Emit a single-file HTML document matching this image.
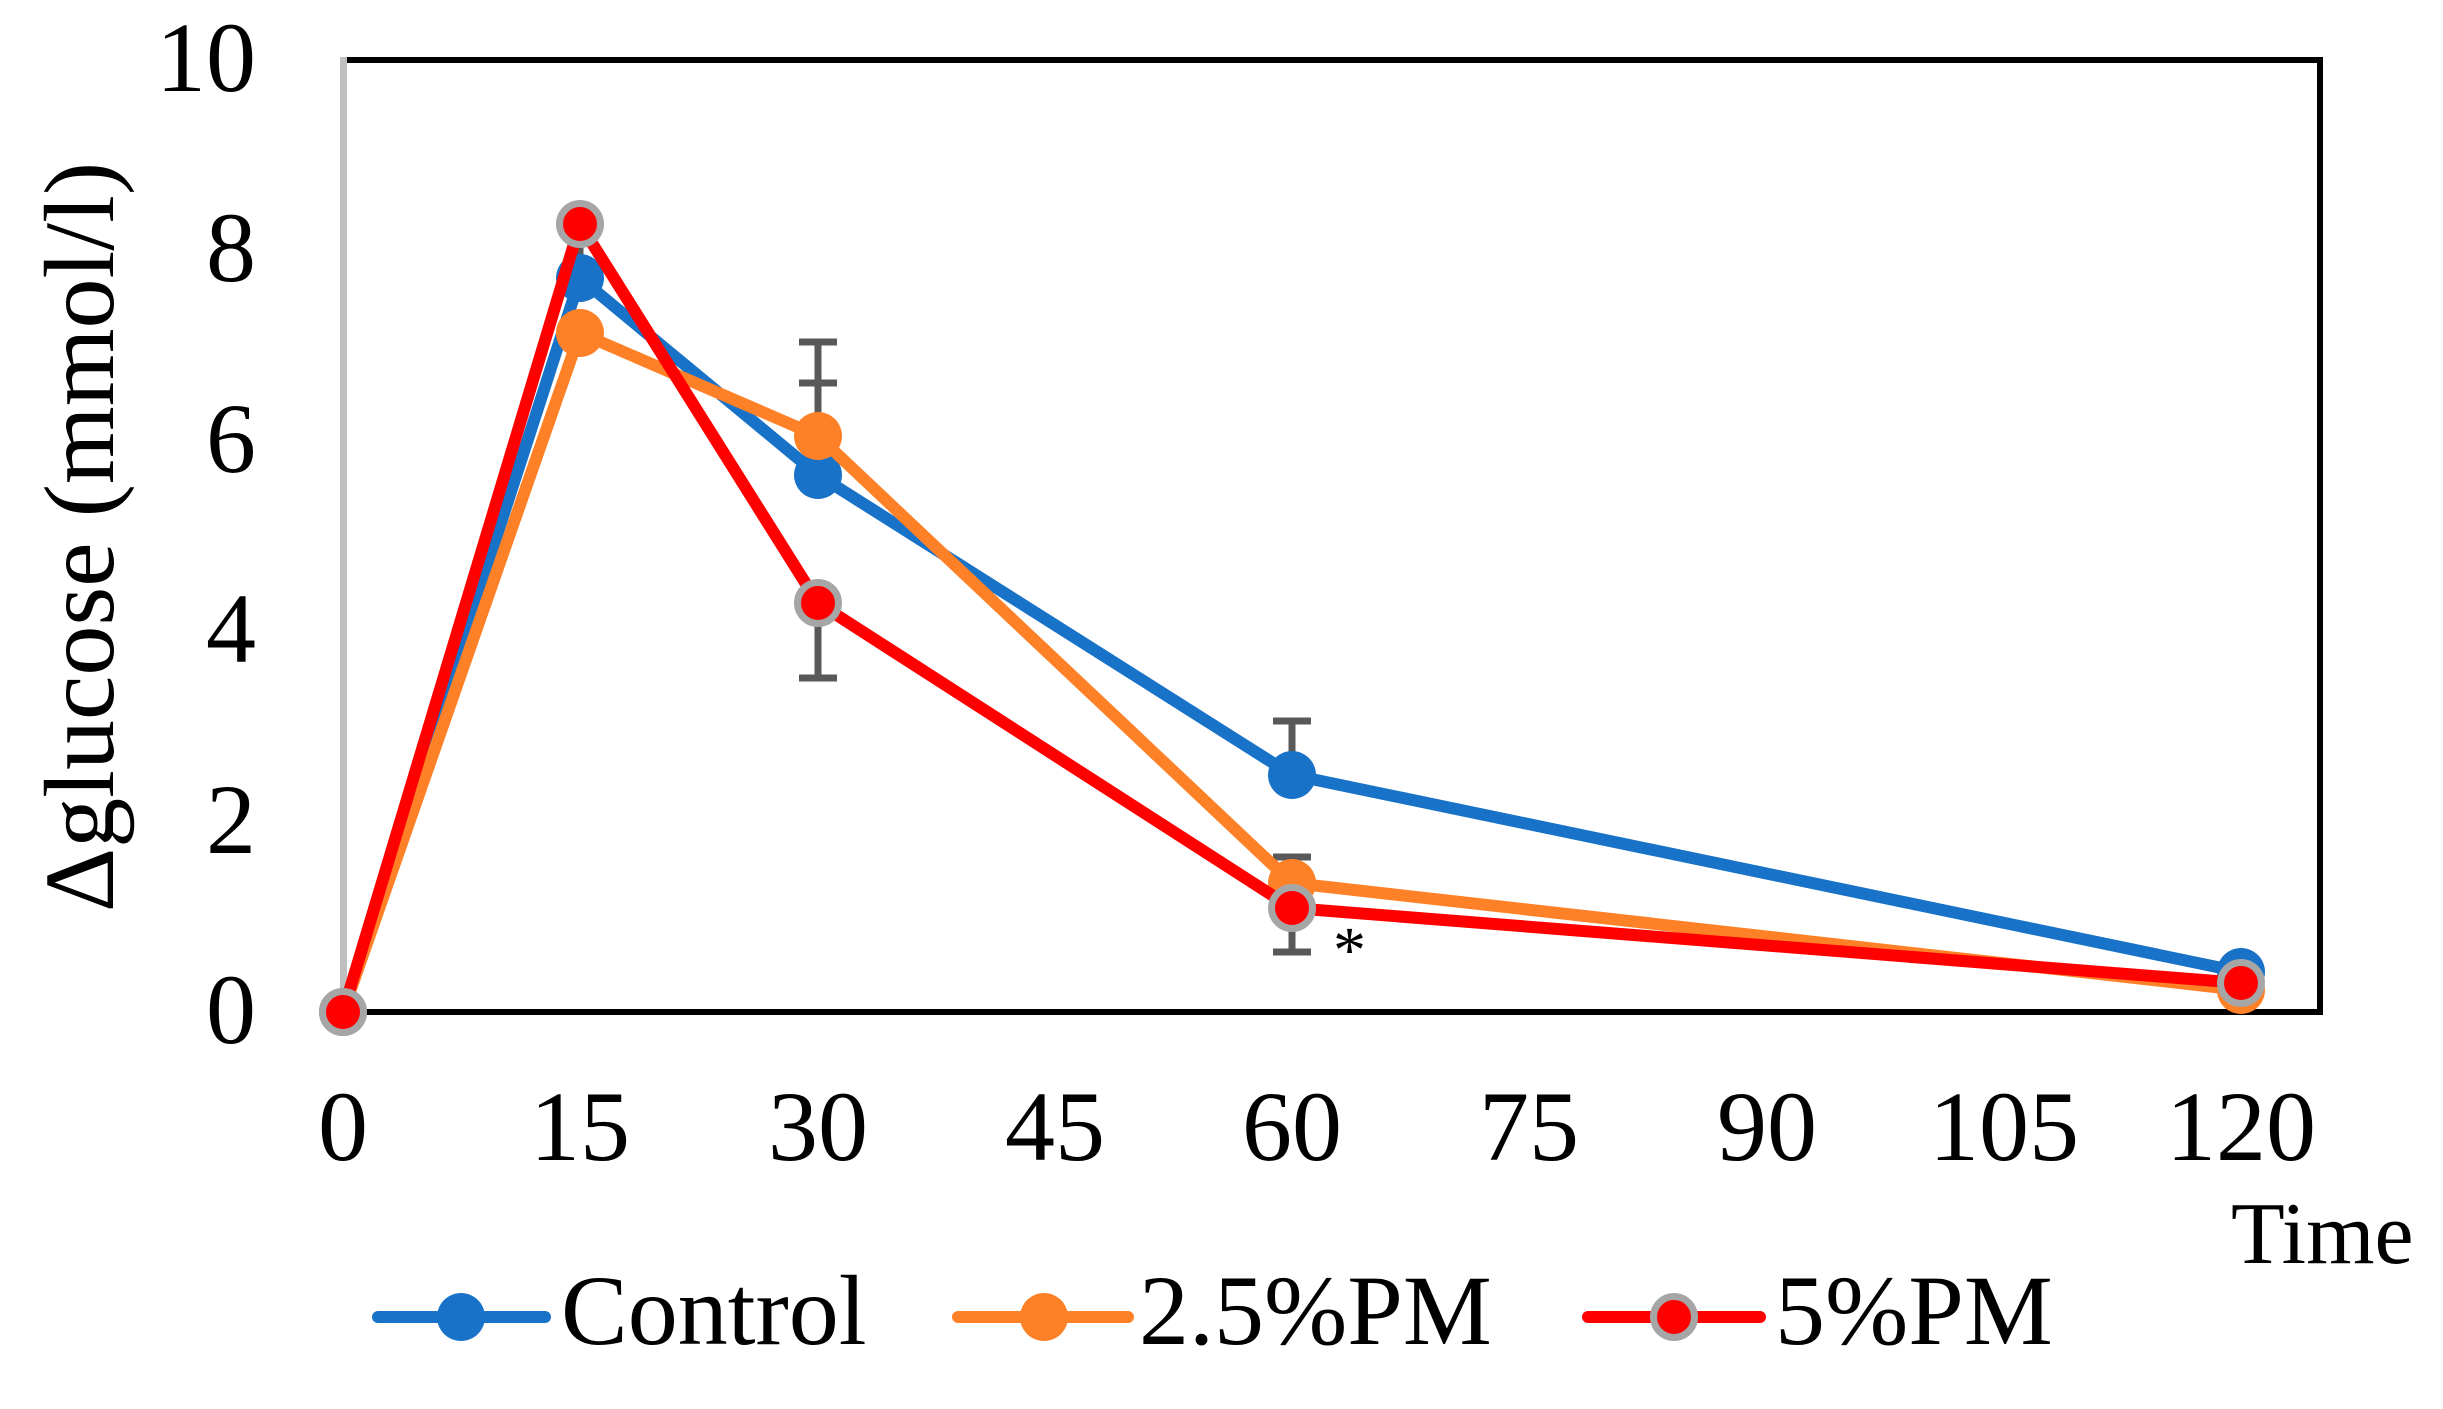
<!DOCTYPE html>
<html><head><meta charset="utf-8"><style>
html,body{margin:0;padding:0;background:#fff;}
svg text{font-family:"Liberation Serif",serif;fill:#000;}
</style></head><body>
<svg width="2443" height="1404" viewBox="0 0 2443 1404" xmlns="http://www.w3.org/2000/svg">
<rect width="2443" height="1404" fill="#fff"/>
<line x1="343.5" y1="60" x2="2320" y2="60" stroke="#000" stroke-width="6"/>
<line x1="2320" y1="57" x2="2320" y2="1015" stroke="#000" stroke-width="6"/>
<line x1="343.5" y1="1012" x2="2323" y2="1012" stroke="#000" stroke-width="6"/>
<line x1="343.5" y1="57" x2="343.5" y2="1012" stroke="#bfbfbf" stroke-width="7"/>
<g font-size="100" text-anchor="end">
<text x="256" y="1043">0</text>
<text x="256" y="853">2</text>
<text x="256" y="662">4</text>
<text x="256" y="472">6</text>
<text x="256" y="281">8</text>
<text x="256" y="91">10</text>
</g>
<g font-size="100" text-anchor="middle">
<text x="343" y="1160">0</text>
<text x="580" y="1160">15</text>
<text x="818" y="1160">30</text>
<text x="1055" y="1160">45</text>
<text x="1292" y="1160">60</text>
<text x="1529" y="1160">75</text>
<text x="1767" y="1160">90</text>
<text x="2004" y="1160">105</text>
<text x="2241" y="1160">120</text>
</g>
<text x="113" y="537" font-size="100" text-anchor="middle" transform="rotate(-90 113 537)">Δglucose (mmol/l)</text>
<text x="2231" y="1263" font-size="88">Time</text>
<text x="1333" y="972" font-size="66">*</text>
<g stroke="#595959" stroke-width="7" fill="none">
<path d="M818 342V475M799 342H837"/>
<path d="M818 383V436M799 383H837"/>
<path d="M818 678V603M799 678H837"/>
<path d="M1292 721V775M1273 721H1311"/>
<path d="M1292 857V883M1273 857H1311"/>
<path d="M1292 952V908M1273 952H1311"/>
<path d="M580 210V278M580 315V333"/>
</g>
<g>
<polyline points="343,1012 580,278 818,475 1292,775 2241,972" fill="none" stroke="#1872c8" stroke-width="12" stroke-linejoin="round"/>
<g fill="#1872c8"><circle cx="343" cy="1012" r="24"/><circle cx="580" cy="278" r="24"/><circle cx="818" cy="475" r="24"/><circle cx="1292" cy="775" r="24"/><circle cx="2241" cy="972" r="24"/></g>
</g>
<g>
<polyline points="343,1012 580,333 818,436 1292,883 2241,990" fill="none" stroke="#ff8127" stroke-width="12" stroke-linejoin="round"/>
<g fill="#ff8127"><circle cx="343" cy="1012" r="24"/><circle cx="580" cy="333" r="24"/><circle cx="818" cy="436" r="24"/><circle cx="1292" cy="883" r="24"/><circle cx="2241" cy="990" r="24"/></g>
</g>
<g>
<polyline points="343,1012 580,224 818,603 1292,908 2241,983" fill="none" stroke="#ff0000" stroke-width="12" stroke-linejoin="round"/>
<g fill="#ff0000" stroke="#a6a6a6" stroke-width="7"><circle cx="343" cy="1012" r="20.5"/><circle cx="580" cy="224" r="20.5"/><circle cx="818" cy="603" r="20.5"/><circle cx="1292" cy="908" r="20.5"/><circle cx="2241" cy="983" r="20.5"/></g>
</g>
<g font-size="100">
<line x1="378" y1="1317" x2="545" y2="1317" stroke="#1872c8" stroke-width="12" stroke-linecap="round"/>
<circle cx="461" cy="1317" r="24" fill="#1872c8"/>
<text x="561" y="1344">Control</text>
<line x1="958" y1="1317" x2="1128" y2="1317" stroke="#ff8127" stroke-width="12" stroke-linecap="round"/>
<circle cx="1044" cy="1317" r="24" fill="#ff8127"/>
<text x="1139" y="1344">2.5%PM</text>
<line x1="1588" y1="1317" x2="1760" y2="1317" stroke="#ff0000" stroke-width="12" stroke-linecap="round"/>
<circle cx="1674" cy="1317" r="20.5" fill="#ff0000" stroke="#a6a6a6" stroke-width="7"/>
<text x="1775" y="1344">5%PM</text>
</g>
</svg>
</body></html>
